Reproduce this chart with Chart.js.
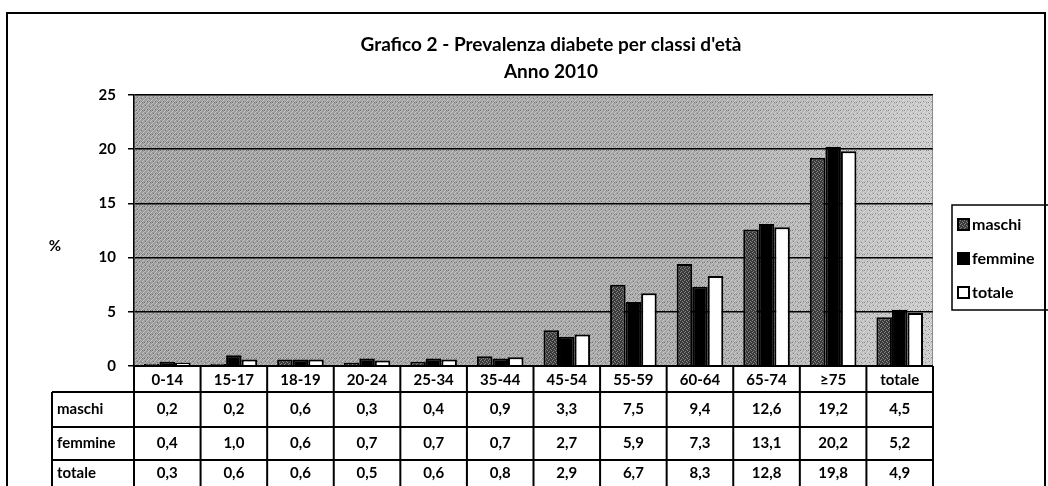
<!DOCTYPE html>
<html>
<head>
<meta charset="utf-8">
<script src="https://cdn.jsdelivr.net/npm/chart.js@4.4.1/dist/chart.umd.min.js"></script>
<style>
    html, body { margin: 0; padding: 0; background: #fff; }
    #wrap { width: 1048px; height: 486px; }
</style>
</head>
<body>
<div id="wrap"><canvas id="chart" width="1048" height="486"></canvas></div>
<script>
// Data
const categories = ['0-14', '15-17', '18-19', '20-24', '25-34', '35-44', '45-54', '55-59', '60-64', '65-74', '≥75', 'totale'];
const maschi = [0.2, 0.2, 0.6, 0.3, 0.4, 0.9, 3.3, 7.5, 9.4, 12.6, 19.2, 4.5];
const femmine = [0.4, 1.0, 0.6, 0.7, 0.7, 0.7, 2.7, 5.9, 7.3, 13.1, 20.2, 5.2];
const totale = [0.3, 0.6, 0.6, 0.5, 0.6, 0.8, 2.9, 6.7, 8.3, 12.8, 19.8, 4.9];
const seriesNames = ['maschi', 'femmine', 'totale'];
const yTicks = [0, 5, 10, 15, 20, 25];
const titleLines = ['Grafico 2 - Prevalenza diabete per classi d\'età', 'Anno 2010'];

const FONT = 'Lato, "Open Sans", sans-serif';

/**
 * Small speckled pattern used for the "maschi" bars
 */
function makeSpeckle() {
    const c = document.createElement('canvas');
    c.width = 4;
    c.height = 4;
    const g = c.getContext('2d');
    g.fillStyle = '#3a3a3a';
    g.fillRect(0, 0, 4, 4);
    g.fillStyle = '#858585';
    g.fillRect(0, 0, 1, 1);
    g.fillRect(2, 1, 1, 1);
    g.fillRect(1, 3, 1, 1);
    g.fillRect(3, 2, 1, 1);
    return g.createPattern(c, 'repeat');
}

/**
 * Grainy diagonal hatch laid over the plot background
 */
function makeHatch() {
    const c = document.createElement('canvas');
    c.width = 8;
    c.height = 8;
    const g = c.getContext('2d');
    g.strokeStyle = 'rgba(255,255,255,0.35)';
    g.lineWidth = 1;
    g.beginPath();
    g.moveTo(0, 8);
    g.lineTo(8, 0);
    g.moveTo(4, 8);
    g.lineTo(8, 4);
    g.moveTo(0, 4);
    g.lineTo(4, 0);
    g.stroke();
    g.fillStyle = 'rgba(0,0,0,0.35)';
    g.fillRect(1, 1, 1, 1);
    g.fillRect(5, 2, 1, 1);
    g.fillRect(3, 5, 1, 1);
    g.fillRect(6, 6, 1, 1);
    g.fillRect(0, 6, 1, 1);
    return g.createPattern(c, 'repeat');
}

const ctx = document.getElementById('chart').getContext('2d');
const speckle = makeSpeckle();
const hatch = makeHatch();

const fmt = v => v.toFixed(1).replace('.', ',');

// Background, title, legend, data table and frame
const decorPlugin = {
    id: 'decor',
    beforeDraw(chart) {
        const c = chart.ctx;
        const a = chart.chartArea;
        c.save();
        const grad = c.createLinearGradient(a.left, 0, a.right, 0);
        grad.addColorStop(0, '#9e9e9e');
        grad.addColorStop(0.7, '#a8a8a8');
        grad.addColorStop(1, '#cbcbcb');
        c.fillStyle = grad;
        c.fillRect(a.left, a.top, a.right - a.left, a.bottom - a.top);
        c.fillStyle = hatch;
        c.fillRect(a.left, a.top, a.right - a.left, a.bottom - a.top);
        c.restore();
    },
    afterDraw(chart) {
        const c = chart.ctx;
        const a = chart.chartArea;
        const x = chart.scales.x;
        c.save();

        // outer frame
        c.strokeStyle = '#000';
        c.lineWidth = 2;
        c.beginPath();
        c.moveTo(7, 490);
        c.lineTo(7, 13);
        c.lineTo(1045, 13);
        c.lineTo(1045, 490);
        c.stroke();

        // title
        c.fillStyle = '#000';
        c.textAlign = 'center';
        c.textBaseline = 'middle';
        c.font = 'bold 19px ' + FONT;
        c.fillText(titleLines[0], 551, 45);
        c.fillText(titleLines[1], 551, 72);

        // y axis unit
        c.font = 'bold 15px ' + FONT;
        c.fillText('%', 55, 246);

        // plot border (dotted)
        c.strokeStyle = '#444';
        c.lineWidth = 1;
        c.setLineDash([1, 1]);
        c.strokeRect(a.left + 0.5, a.top + 0.5, a.right - a.left - 1, a.bottom - a.top - 1);
        c.setLineDash([]);

        // data table
        const colW = (a.right - a.left) / categories.length;
        const rows = [a.bottom, 392, 427, 460, 494];
        const labelLeft = 52;
        c.strokeStyle = '#000';
        c.lineWidth = 2;
        c.beginPath();
        // horizontal lines
        c.moveTo(a.left, rows[0]);
        c.lineTo(a.right, rows[0]);
        for (let r = 1; r < rows.length - 1; r++) {
            c.moveTo(labelLeft, rows[r]);
            c.lineTo(a.right, rows[r]);
        }
        // vertical lines
        for (let i = 0; i <= categories.length; i++) {
            const px = a.left + i * colW;
            c.moveTo(px, rows[0]);
            c.lineTo(px, rows[rows.length - 1]);
        }
        c.moveTo(labelLeft, rows[1]);
        c.lineTo(labelLeft, rows[rows.length - 1]);
        c.stroke();

        c.font = 'bold 15px ' + FONT;
        c.fillStyle = '#000';
        c.textAlign = 'center';
        categories.forEach((cat, i) => {
            c.fillText(cat, x.getPixelForValue(i), (rows[0] + rows[1]) / 2 + 1);
        });
        const tableData = [maschi, femmine, totale];
        tableData.forEach((vals, r) => {
            const cy = (rows[r + 1] + Math.min(rows[r + 2], 486)) / 2;
            c.textAlign = 'left';
            c.fillText(seriesNames[r], labelLeft + 5, cy);
            c.textAlign = 'center';
            vals.forEach((v, i) => {
                c.fillText(fmt(v), x.getPixelForValue(i), cy);
            });
        });

        // legend
        c.lineWidth = 1.5;
        c.strokeRect(952, 205, 110, 105);
        const swatches = [speckle, '#000', '#fff'];
        const legY = [224, 258, 292];
        c.textAlign = 'left';
        c.font = 'bold 16px ' + FONT;
        seriesNames.forEach((name, i) => {
            c.fillStyle = '#000';
            c.fillRect(957, legY[i] - 6, 13, 13);
            c.fillStyle = swatches[i];
            c.fillRect(959, legY[i] - 4, 9, 9);
            c.fillStyle = '#000';
            c.fillText(name, 972, legY[i] + 1);
        });

        c.restore();
    }
};

const chart = new Chart(ctx, {
    type: 'bar',
    data: {
        labels: categories,
        datasets: [
            { label: seriesNames[0], data: maschi, backgroundColor: speckle },
            { label: seriesNames[1], data: femmine, backgroundColor: '#000' },
            { label: seriesNames[2], data: totale, backgroundColor: '#fff' }
        ]
    },
    options: {
        responsive: false,
        animation: false,
        devicePixelRatio: 1,
        layout: {
            padding: { left: 0, right: 115, top: 95, bottom: 120 }
        },
        datasets: {
            bar: {
                categoryPercentage: 0.7,
                barPercentage: 1.0,
                borderColor: '#000',
                borderWidth: 2,
                borderSkipped: 'bottom'
            }
        },
        plugins: {
            legend: { display: false },
            title: { display: false },
            tooltip: { enabled: false }
        },
        scales: {
            x: {
                display: false,
                offset: true
            },
            y: {
                min: 0,
                max: 25,
                afterFit: scale => { scale.width = 134; },
                afterBuildTicks: scale => {
                    scale.ticks = yTicks.map(v => ({ value: v }));
                },
                ticks: {
                    color: '#000',
                    padding: 12,
                    font: { family: FONT, size: 15, weight: 'bold' }
                },
                grid: {
                    color: '#000',
                    lineWidth: 1.5,
                    tickLength: 6
                },
                border: { color: '#000', width: 1.5 }
            }
        }
    },
    plugins: [decorPlugin]
});
</script>
</body>
</html>
